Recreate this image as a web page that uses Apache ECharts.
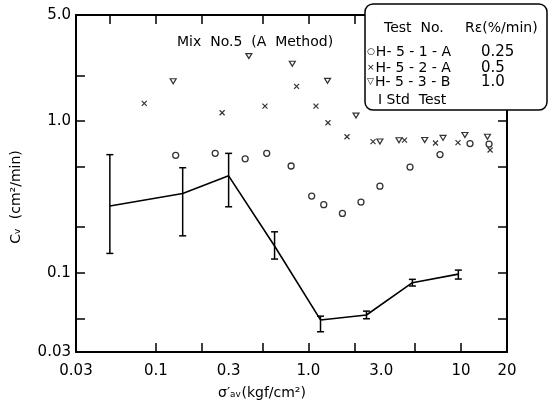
<!DOCTYPE html>
<html>
<head>
<meta charset="utf-8">
<script src="https://cdn.jsdelivr.net/npm/echarts@6/dist/echarts.min.js"></script>
<style>html,body{margin:0;padding:0;background:#fff}#c{width:549px;height:410px}</style>
</head>
<body>
<div id="c"></div>
<script>
// Std Test (line with error bars)
var stdX = [0.05, 0.15, 0.3, 0.6, 1.2, 2.4, 4.8, 9.6];
var stdY = [0.275, 0.333, 0.435, 0.15, 0.0488, 0.0526, 0.0859, 0.0979];
var stdLow = [0.134, 0.175, 0.272, 0.123, 0.0408, 0.0497, 0.0817, 0.0908];
var stdHigh = [0.600, 0.492, 0.612, 0.186, 0.0517, 0.0558, 0.0904, 0.104];
// H-5-1-A (circles)
var h1X = [0.135, 0.245, 0.385, 0.533, 0.77, 1.05, 1.26, 1.67, 2.21, 2.94, 4.63, 7.28, 11.45, 15.25];
var h1Y = [0.594, 0.612, 0.563, 0.612, 0.505, 0.320, 0.281, 0.246, 0.292, 0.372, 0.497, 0.601, 0.710, 0.705];
// H-5-2-A (crosses)
var h2X = [0.084, 0.272, 0.519, 0.836, 1.12, 1.343, 1.79, 2.65, 4.26, 6.80, 9.55, 15.5];
var h2Y = [1.307, 1.134, 1.255, 1.692, 1.255, 0.974, 0.787, 0.732, 0.749, 0.716, 0.721, 0.644];
// H-5-3-B (down triangles)
var h3X = [0.130, 0.407, 0.784, 1.334, 2.05, 2.94, 3.92, 5.78, 7.62, 10.6, 14.9];
var h3Y = [1.83, 2.68, 2.385, 1.84, 1.086, 0.732, 0.746, 0.749, 0.774, 0.808, 0.787];
// ticks & labels
var xLabelVals = [0.03, 0.1, 0.3, 1, 3, 10, 20];
var xLabelText = ['0.03', '0.1', '0.3', '1.0', '3.0', '10', '20'];
var xTickBottom = [0.1, 0.2, 0.5, 1, 2, 5, 10];
var xTickTop = [0.05, 0.1, 0.2, 0.5, 1, 2, 5, 10];
var yLabelVals = [0.03, 0.1, 1, 5];
var yLabelText = ['0.03', '{p|0.1}', '1.0', '5.0'];
var yTicks = [0.05, 0.1, 0.2, 0.5, 1, 2];

function zip(a, b) { return a.map(function (v, i) { return [v, b[i]]; }); }
function lookup(vals, texts) {
  return function (v) {
    for (var i = 0; i < vals.length; i++) {
      if (Math.abs(Math.log10(v) - Math.log10(vals[i])) < 0.01) return texts[i];
    }
    return '';
  };
}
var FONT = '"DejaVu Sans", sans-serif';
var axLine = { show: true, lineStyle: { color: '#000', width: 2 } };
var symRich = { s: { fontSize: 9, fontFamily: FONT, fill: '#000', color: '#000', padding: [0, 1, 0, 0] } };

var chart = echarts.init(document.getElementById('c'), null, { renderer: 'canvas' });
chart.setOption({
  animation: false,
  backgroundColor: '#fff',
  grid: { left: 76, right: 42, top: 15, bottom: 58, containLabel: false, show: false },
  xAxis: [{
    type: 'log', logBase: 10, min: 0.03, max: 20, position: 'bottom',
    axisLine: axLine,
    axisTick: { show: true, inside: true, length: 9, customValues: xTickBottom, lineStyle: { color: '#000', width: 1.5 } },
    axisLabel: { show: true, customValues: xLabelVals, formatter: lookup(xLabelVals, xLabelText), margin: 12,
      color: '#000', fontFamily: FONT, fontSize: 15, hideOverlap: false },
    splitLine: { show: false }, minorTick: { show: false }
  }, {
    type: 'log', logBase: 10, min: 0.03, max: 20, position: 'top',
    axisLine: axLine,
    axisTick: { show: true, inside: true, length: 9, customValues: xTickTop, lineStyle: { color: '#000', width: 1.5 } },
    axisLabel: { show: false }, splitLine: { show: false }
  }],
  yAxis: [{
    type: 'log', logBase: 10, min: 0.03, max: 5, position: 'left',
    axisLine: axLine,
    axisTick: { show: true, inside: true, length: 9, customValues: yTicks, lineStyle: { color: '#000', width: 1.5 } },
    axisLabel: { show: true, customValues: yLabelVals, formatter: lookup(yLabelVals, yLabelText), margin: 5,
      color: '#000', fontFamily: FONT, fontSize: 15, align: 'right', hideOverlap: false,
      rich: { p: { width: 24, align: 'left', fontFamily: FONT, fontSize: 15, color: '#000' } } },
    splitLine: { show: false }
  }, {
    type: 'log', logBase: 10, min: 0.03, max: 5, position: 'right',
    axisLine: axLine,
    axisTick: { show: true, inside: true, length: 9, customValues: yTicks, lineStyle: { color: '#000', width: 1.5 } },
    axisLabel: { show: false }, splitLine: { show: false }
  }],
  series: [{
    name: 'Std Test line', type: 'line', data: zip(stdX, stdY), symbol: 'none',
    lineStyle: { color: '#000', width: 1.6 }, z: 3
  }, {
    name: 'Std Test', type: 'custom',
    data: stdX.map(function (x, i) { return [x, stdLow[i], stdHigh[i]]; }),
    renderItem: function (params, api) {
      var lo = api.coord([api.value(0), api.value(1)]);
      var hi = api.coord([api.value(0), api.value(2)]);
      var w = 3.5;
      var st = { stroke: '#000', lineWidth: 1.5 };
      return { type: 'group', children: [
        { type: 'line', shape: { x1: lo[0], y1: lo[1], x2: hi[0], y2: hi[1] }, style: st },
        { type: 'line', shape: { x1: lo[0] - w, y1: lo[1], x2: lo[0] + w, y2: lo[1] }, style: st },
        { type: 'line', shape: { x1: hi[0] - w, y1: hi[1], x2: hi[0] + w, y2: hi[1] }, style: st }
      ] };
    },
    encode: { x: 0, y: [1, 2] }, z: 3
  }, {
    name: 'H-5-1-A', type: 'scatter', data: zip(h1X, h1Y), symbol: 'circle', symbolSize: 6,
    itemStyle: { color: '#fff', borderColor: '#000', borderWidth: 1.3 }
  }, {
    name: 'H-5-2-A', type: 'scatter', data: zip(h2X, h2Y), symbol: 'path://M0,0L10,10M10,0L0,10', symbolSize: 5,
    itemStyle: { color: 'none', borderColor: '#000', borderWidth: 1.2 }
  }, {
    name: 'H-5-3-B', type: 'scatter', data: zip(h3X, h3Y), symbol: 'path://M0,0L10,0L5,9Z', symbolSize: [6, 5],
    itemStyle: { color: '#fff', borderColor: '#000', borderWidth: 1.2 }
  }],
  graphic: [
    { type: 'text', x: 177, y: 42, z: 10, style: { text: 'Mix  No.5  (A  Method)', font: '14px ' + FONT, fill: '#000', textVerticalAlign: 'middle' } },
    { type: 'text', x: 262, y: 393, z: 10, style: { text: 'σ′ₐᵥ(kgf/cm²)', font: '14px ' + FONT, fill: '#000', textAlign: 'center', textVerticalAlign: 'middle' } },
    { type: 'text', x: 16, y: 197, rotation: Math.PI / 2, z: 10, style: { text: 'Cᵥ  (cm²/min)', font: '14px ' + FONT, fill: '#000', textAlign: 'center', textVerticalAlign: 'middle' } },
    { type: 'rect', z: 20, shape: { x: 365, y: 4, width: 182, height: 106, r: 8 }, style: { fill: '#fff', stroke: '#000', lineWidth: 1.5 } },
    { type: 'text', x: 384, y: 28, z: 21, style: { text: 'Test  No.', font: '14px ' + FONT, fill: '#000', textVerticalAlign: 'middle' } },
    { type: 'text', x: 465, y: 28, z: 21, style: { text: 'Rε(%/min)', font: '14px ' + FONT, fill: '#000', textVerticalAlign: 'middle' } },
    { type: 'text', x: 367, y: 52, z: 21, style: { text: '{s|○}H- 5 - 1 - A', rich: symRich, font: '14px ' + FONT, fill: '#000', textVerticalAlign: 'middle' } },
    { type: 'text', x: 481, y: 52, z: 21, style: { text: '0.25', font: '15px ' + FONT, fill: '#000', textVerticalAlign: 'middle' } },
    { type: 'text', x: 367, y: 68, z: 21, style: { text: '{s|×}H- 5 - 2 - A', rich: symRich, font: '14px ' + FONT, fill: '#000', textVerticalAlign: 'middle' } },
    { type: 'text', x: 481, y: 68, z: 21, style: { text: '0.5', font: '15px ' + FONT, fill: '#000', textVerticalAlign: 'middle' } },
    { type: 'text', x: 367, y: 82, z: 21, style: { text: '{s|▽}H- 5 - 3 - B', rich: symRich, font: '14px ' + FONT, fill: '#000', textVerticalAlign: 'middle' } },
    { type: 'text', x: 481, y: 82, z: 21, style: { text: '1.0', font: '15px ' + FONT, fill: '#000', textVerticalAlign: 'middle' } },
    { type: 'text', x: 378, y: 100, z: 21, style: { text: 'I Std  Test', font: '14px ' + FONT, fill: '#000', textVerticalAlign: 'middle' } }
  ]
});
</script>
</body>
</html>
